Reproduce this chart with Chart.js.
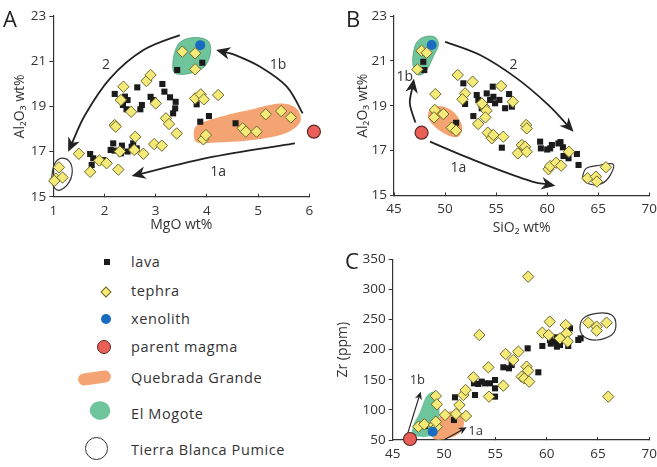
<!DOCTYPE html>
<html>
<head>
<meta charset="utf-8">
<script src="https://cdn.jsdelivr.net/npm/chart.js@4.4.1/dist/chart.umd.min.js"></script>
<style>
  body { margin: 0; background: #fff; }
  #page { position: relative; width: 657px; height: 467px; overflow: hidden; font-family: "Open Sans", sans-serif; color: #333; }
  canvas { position: absolute; }
  .letter { position: absolute; font-size: 22px; color: #222; line-height: 1; }
  .key { position: absolute; left: 131px; font-size: 14.5px; line-height: 16px; letter-spacing: 0.6px; color: #333; }
  .mk { position: absolute; box-sizing: border-box; }
</style>
</head>
<body>
<div id="page">
  <canvas id="chartA" width="330" height="240" style="left:0;top:0"></canvas>
  <canvas id="chartB" width="327" height="240" style="left:330px;top:0"></canvas>
  <canvas id="chartC" width="327" height="227" style="left:330px;top:240px"></canvas>

  <div class="letter" style="left:3px;top:7px">A</div>
  <div class="letter" style="left:346px;top:7px">B</div>
  <div class="letter" style="left:345px;top:249px">C</div>

  <!-- legend -->
  <div class="mk" style="left:104px;top:259px;width:6px;height:6px;background:#1b1b1b"></div>
  <div class="key" style="top:254px">lava</div>
  <div class="mk" style="left:102px;top:288px;width:8px;height:8px;background:#f4ea78;border:1px solid #6e6630;transform:rotate(45deg)"></div>
  <div class="key" style="top:283px">tephra</div>
  <div class="mk" style="left:101px;top:314px;width:10px;height:10px;border-radius:50%;background:#1a6cc0"></div>
  <div class="key" style="top:311px">xenolith</div>
  <div class="mk" style="left:97px;top:340px;width:14px;height:14px;border-radius:50%;background:#ea5f58;border:1.5px solid #5b2a24"></div>
  <div class="key" style="top:339px">parent magma</div>
  <div class="mk" style="left:78px;top:372px;width:33px;height:12px;border-radius:7px;background:#f4a472;transform:rotate(-8deg)"></div>
  <div class="key" style="top:370px">Quebrada Grande</div>
  <div class="mk" style="left:90px;top:401px;width:20px;height:19px;border-radius:45% 55% 45% 55%;background:#6ec59b;transform:rotate(-25deg)"></div>
  <div class="key" style="top:406px">El Mogote</div>
  <div class="mk" style="left:85px;top:437px;width:23px;height:23px;border-radius:50%;border:1.5px solid #333"></div>
  <div class="key" style="top:442px">Tierra Blanca Pumice</div>
</div>

<script>
// ---- data: panel A (MgO vs Al2O3) ----
const lavaA = [[1.72,16.89],[1.78,16.7],[1.75,16.4],[1.98,16.62],[2.17,17.36],[2.2,17.04],[2.12,17.07],[2.32,16.92],
  [2.34,17.26],[2.53,17.21],[2.56,17.36],[2.63,17.14],[2.45,17.0],[2.2,19.55],[2.4,19.43],[2.45,19.28],[2.36,19.06],
  [2.43,18.87],[2.64,19.84],[2.73,19.06],[2.7,18.87],[2.9,19.42],[2.95,19.28],[3.13,19.99],[3.17,19.65],[3.28,19.4],
  [3.39,19.2],[3.38,18.91],[3.34,18.69],[3.42,20.61],[3.91,20.93],[3.8,19.09],[3.87,18.32],[4.04,18.57],[4.56,18.25]];
const tephraA = [[1.11,16.3],[1.05,15.8],[1.18,15.85],[1.02,15.7],[1.5,16.9],[1.9,16.6],[1.72,16.1],[2.04,16.48],
  [2.2,18.17],[2.22,18.1],[2.27,16.2],[2.3,17.0],[2.37,19.87],[2.32,19.28],[2.52,18.76],[2.6,17.65],[2.58,17.07],
  [2.76,16.9],[2.82,20.12],[2.9,20.39],[3.0,19.13],[2.97,17.33],[3.12,17.26],[3.2,18.47],[3.26,18.22],[3.41,17.8],
  [3.52,21.42],[3.77,21.35],[3.77,20.64],[3.77,19.35],[3.88,19.53],[3.94,19.31],[4.22,19.5],[3.93,17.54],[3.98,17.73],
  [4.7,18.03],[4.76,17.88],[4.97,17.88],[5.15,18.65],[5.45,18.79],[5.64,18.51]];
const xenolithA = [[3.87,21.71]];
const parentA = [[6.09,17.88]];

// ---- data: panel B (SiO2 vs Al2O3) ----
const lavaB = [[47.87,20.96],[47.97,20.59],[51.08,18.24],[51.79,20.0],[51.96,19.08],[52.77,18.54],[53.1,19.48],
  [53.26,19.26],[53.59,18.89],[54.08,19.55],[54.41,19.26],[54.67,19.85],[54.73,19.4],[54.9,19.11],[55.32,19.26],
  [55.88,18.89],[56.27,19.52],[56.54,18.96],[55.56,17.13],[58.0,17.03],[59.31,17.4],[59.38,17.1],[60.46,17.25],
  [60.29,17.1],[61.1,17.32],[61.54,17.15],[61.6,16.76],[62.09,16.66],[62.91,16.85],[63.07,16.36],[60.0,17.05],[61.3,17.38]];
const tephraB = [[47.29,20.62],[47.7,21.45],[48.2,21.36],[51.24,20.37],[49.05,19.52],[49.0,18.81],[48.92,18.48],
  [49.83,18.63],[50.66,18.02],[51.08,17.89],[52.7,20.07],[51.96,19.55],[51.7,19.29],[53.8,18.96],[54.05,18.78],
  [53.95,18.48],[53.24,18.19],[53.6,19.1],[55.49,19.88],[56.64,19.18],[54.18,17.8],[54.58,17.55],[54.73,17.7],
  [55.7,17.62],[57.94,18.14],[58.0,17.99],[57.13,16.88],[57.52,17.25],[57.84,17.17],[58.0,16.95],[60.13,16.17],
  [60.29,16.31],[60.88,16.46],[61.37,16.33],[62.13,16.95],[63.95,15.77],[64.77,15.84],[64.87,15.62],[65.75,16.26]];
const xenolithB = [[48.69,21.71]];
const parentB = [[47.7,17.8]];

// ---- data: panel C (SiO2 vs Zr) ----
const lavaC = [[48.15,73.2],[50.97,83.2],[51.07,120.9],[53.02,124.7],[52.92,144.1],[53.34,143],[53.67,146.9],
  [54.0,144.1],[54.48,144.1],[54.97,149.6],[54.97,135.8],[54.97,122],[55.78,170.7],[56.33,169],[56.59,174.5],
  [58.15,202.2],[59.19,162.4],[59.58,206.1],[60.32,216.1],[60.81,213.3],[60.97,220.5],[61.3,207.7],[61.95,237.1],
  [62.1,206.1],[62.27,235.4],[63.08,216.1],[63.31,218.8],[60.4,210],[61.0,205]];
const tephraC = [[47.5,72.1],[48.08,76],[49.03,74.9],[49.3,72],[49.2,80.4],[49.2,123.1],[49.3,109.2],[50.1,91.5],
  [51.17,93.2],[51.5,108],[51.88,124.7],[52.1,133],[52.14,89.9],[52.86,154],[53.44,224.3],[54.32,170.7],[54.38,122],
  [55.78,140.2],[56.0,192.8],[56.75,182.8],[57.24,196.7],[57.56,155.2],[57.82,152.4],[58.05,171.8],[58.2,165.1],
  [58.3,146.9],[58.2,321.2],[59.58,228.2],[60.3,246.5],[60.2,224.3],[61.3,218.8],[61.85,241],[61.95,227.1],
  [62.05,213.3],[64.06,244.8],[64.87,238.2],[64.87,231.5],[65.84,244.8],[66.0,122]];
const xenolithC = [[48.9,63.8]];
const parentC = [[46.69,51.7]];

// ---- outlines (data units) ----
const quebradaA = [[3.75,17.6],[3.8,18.15],[4.2,18.5],[4.84,18.85],[5.43,19.13],[5.75,18.9],[5.82,18.3],[5.5,17.78],[4.84,17.5],[4.19,17.4],[3.85,17.38]];
const mogoteA = [[3.34,20.6],[3.36,21.3],[3.48,21.85],[3.75,22.05],[4.02,21.9],[4.07,21.35],[3.95,20.75],[3.7,20.48],[3.45,20.42]];
const tierraA = [[0.98,15.6],[1.0,16.3],[1.12,16.68],[1.3,16.6],[1.37,16.1],[1.28,15.55],[1.1,15.28]];
const quebradaB = [[48.53,18.81],[49.51,18.99],[50.81,18.73],[51.64,18.14],[51.47,17.7],[50.66,17.62],[49.19,17.99],[48.37,18.44]];
const mogoteB = [[47.06,20.52],[46.83,21.04],[47.16,21.78],[48.04,22.08],[49.02,22.05],[49.35,21.71],[48.85,21.19],[48.2,20.59],[47.55,20.37]];
const tierraB = [[63.5,15.77],[63.82,16.21],[64.87,16.33],[66.44,16.4],[66.18,15.91],[65.36,15.54],[64.22,15.5]];
const quebradaC = [[48.8,63.8],[49.29,83.2],[50.42,97],[51.56,94.3],[51.95,78.8],[51.56,62.2],[50.42,52.8],[49.12,51.1]];
const mogoteC = [[47.01,58.3],[47.01,74.9],[47.6,94.3],[48.25,122],[48.96,130.3],[49.45,122],[49.55,88.7],[49.22,63.8],[48.31,55.5]];
const tierraC = [[63.25,235.4],[63.57,252],[64.87,260.3],[66.33,257.6],[66.75,241],[66.33,224.4],[64.87,216],[63.64,221.6]];

// ---- trend arrows (data units) ----
const trend2A = [[3.47,22.15],[2.76,21.49],[2.11,20.24],[1.62,18.62],[1.29,16.99]];
const trend1bA = [[5.87,18.69],[5.56,19.87],[5.04,20.75],[4.52,21.3],[4.18,21.49]];
const trend1aA = [[5.72,17.36],[4.13,16.77],[2.53,15.92]];
const trend2B = [[50.0,21.85],[53.43,21.26],[57.03,20.22],[60.13,19.03],[62.58,17.84]];
const trend1bB = [[47.1,18.25],[46.55,19.1],[46.95,20.2]];
const trend1aB = [[48.53,17.4],[52.0,16.73],[55.27,16.14],[58.53,15.62],[60.8,15.44]];
const trend1bC = [[46.46,61.1],[47.73,130.3]];
const trend1aC = [[50.1,51.1],[52.2,71]];

const FONT = '"Open Sans", sans-serif';
const INK = '#333';

function smoothPath(ctx, pts, closed) {
  const n = pts.length;
  ctx.moveTo(pts[0].x, pts[0].y);
  const last = closed ? n : n - 1;
  for (let i = 0; i < last; i++) {
    const p0 = pts[closed ? (i - 1 + n) % n : Math.max(i - 1, 0)];
    const p1 = pts[i];
    const p2 = pts[(i + 1) % n];
    const p3 = pts[closed ? (i + 2) % n : Math.min(i + 2, n - 1)];
    ctx.bezierCurveTo(p1.x + (p2.x - p0.x) / 6, p1.y + (p2.y - p0.y) / 6,
      p2.x - (p3.x - p1.x) / 6, p2.y - (p3.y - p1.y) / 6, p2.x, p2.y);
  }
  if (closed) ctx.closePath();
}

// draws the group outlines, trend arrows and their labels behind the points
function overlay(cfg) {
  return {
    id: 'overlay',
    beforeDatasetsDraw(chart) {
      const ctx = chart.ctx, sx = chart.scales.x, sy = chart.scales.y;
      const px = arr => arr.map(p => ({x: sx.getPixelForValue(p[0]), y: sy.getPixelForValue(p[1])}));
      ctx.save();
      cfg.fills.forEach(f => {
        ctx.beginPath(); smoothPath(ctx, px(f.pts), true);
        ctx.fillStyle = f.color; ctx.fill();
        if (f.edge) { ctx.strokeStyle = f.edge; ctx.lineWidth = 0.8; ctx.stroke(); }
      });
      cfg.rings.forEach(r => {
        ctx.beginPath(); smoothPath(ctx, px(r), true);
        ctx.strokeStyle = INK; ctx.lineWidth = 1.2; ctx.stroke();
      });
      const w = cfg.arrowWidth, L = cfg.head, W = cfg.head * 0.45;
      cfg.arrows.forEach(a => {
        const pts = px(a);
        const tip = pts[pts.length - 1], prev = pts[pts.length - 2];
        const ang = Math.atan2(tip.y - prev.y, tip.x - prev.x);
        const body = pts.slice(0, -1).concat([{x: tip.x - Math.cos(ang) * L * 0.6, y: tip.y - Math.sin(ang) * L * 0.6}]);
        ctx.beginPath(); smoothPath(ctx, body, false);
        ctx.strokeStyle = '#222'; ctx.lineWidth = w; ctx.stroke();
        ctx.save(); ctx.translate(tip.x, tip.y); ctx.rotate(ang);
        ctx.beginPath(); ctx.moveTo(0, 0); ctx.lineTo(-L, -W); ctx.lineTo(-L * 0.7, 0); ctx.lineTo(-L, W); ctx.closePath();
        ctx.fillStyle = '#222'; ctx.fill(); ctx.restore();
      });
      ctx.fillStyle = INK; ctx.font = cfg.labelSize + 'px ' + FONT;
      ctx.textAlign = 'center'; ctx.textBaseline = 'middle';
      cfg.labels.forEach(l => ctx.fillText(l.text, sx.getPixelForValue(l.x), sy.getPixelForValue(l.y)));
      ctx.restore();
    }
  };
}

function pointSets(lava, tephra, xeno, parent) {
  const xy = arr => arr.map(p => ({x: p[0], y: p[1]}));
  return [
    {label: 'parent magma', data: xy(parent), pointStyle: 'circle', pointRadius: 6.5, backgroundColor: '#ea5f58', borderColor: '#5b2a24', borderWidth: 1.2, clip: false},
    {label: 'xenolith', data: xy(xeno), pointStyle: 'circle', pointRadius: 5, backgroundColor: '#1a6cc0', borderWidth: 0, clip: false},
    {label: 'tephra', data: xy(tephra), pointStyle: 'rectRot', pointRadius: 5.7, backgroundColor: '#f4ea78', borderColor: '#6e6630', borderWidth: 1, clip: false},
    {label: 'lava', data: xy(lava), pointStyle: 'rect', pointRadius: 4.3, backgroundColor: '#1b1b1b', borderColor: '#1b1b1b', borderWidth: 0, clip: false}
  ];
}

function axis(min, max, step, title, titlePad, box, isX) {
  return {
    type: 'linear', min: min, max: max,
    ticks: {stepSize: step, color: INK, font: {family: FONT, size: 13.5}, padding: isX ? 9 : 3},
    grid: {drawOnChartArea: false, color: INK, tickLength: isX ? -3 : 4},
    border: {color: INK, width: 1.2},
    title: {display: true, text: title, color: INK, font: {family: FONT, size: 14}, padding: titlePad},
    afterFit: s => {
      if (isX) { s.height = box; s.paddingLeft = 0; s.paddingRight = 0; }
      else { s.width = box; s.paddingTop = 0; s.paddingBottom = 0; }
    }
  };
}

function makeChart(id, sets, x, y, pad, cfg) {
  new Chart(document.getElementById(id), {
    type: 'scatter',
    data: {datasets: sets},
    options: {
      responsive: false, animation: false, events: [],
      layout: {padding: pad},
      plugins: {legend: {display: false}, tooltip: {enabled: false}},
      scales: {x: x, y: y}
    },
    plugins: [overlay(cfg)]
  });
}

const green = '#6ec59b', orange = '#f4a472';

makeChart('chartA', pointSets(lavaA, tephraA, xenolithA, parentA),
  axis(1, 6, 1, 'MgO wt%', {top: 0, bottom: 7}, 43.3, true),
  axis(15, 23, 2, 'Al₂O₃ wt%', {top: 12, bottom: 0}, 53.3, false),
  {left: 0, top: 16, right: 20.7, bottom: 0},
  {fills: [{pts: quebradaA, color: orange}, {pts: mogoteA, color: green, edge: '#4f9f7a'}], rings: [tierraA],
   arrows: [trend2A, trend1bA, trend1aA], arrowWidth: 1.8, head: 14, labelSize: 14,
   labels: [{text: '2', x: 2.03, y: 20.83}, {text: '1b', x: 5.39, y: 20.83}, {text: '1a', x: 4.22, y: 16.1}]});

makeChart('chartB', pointSets(lavaB, tephraB, xenolithB, parentB),
  axis(45, 70, 5, 'SiO₂ wt%', {top: 0, bottom: 4}, 44.5, true),
  axis(15, 23, 2, 'Al₂O₃ wt%', {top: 25, bottom: 0}, 64, false),
  {left: 0, top: 16, right: 7.7, bottom: 0},
  {fills: [{pts: quebradaB, color: orange}, {pts: mogoteB, color: green, edge: '#4f9f7a'}], rings: [tierraB],
   arrows: [trend2B, trend1bB, trend1aB], arrowWidth: 1.8, head: 14, labelSize: 14,
   labels: [{text: '2', x: 56.7, y: 20.82}, {text: '1b', x: 46.05, y: 20.3}, {text: '1a', x: 51.3, y: 16.21}]});

makeChart('chartC', pointSets(lavaC, tephraC, xenolithC, parentC),
  axis(45, 70, 5, '', {top: 0, bottom: 0}, 27, true),
  axis(50, 350, 50, 'Zr (ppm)', {top: 5, bottom: 0}, 62.7, false),
  {left: 0, top: 19.3, right: 7.7, bottom: 0},
  {fills: [{pts: mogoteC, color: green}, {pts: quebradaC, color: orange}], rings: [tierraC],
   arrows: [trend1bC, trend1aC], arrowWidth: 1.1, head: 8, labelSize: 13,
   labels: [{text: '1b', x: 47.4, y: 149.6}, {text: '1a', x: 53.08, y: 63.8}]});
</script>
</body>
</html>
